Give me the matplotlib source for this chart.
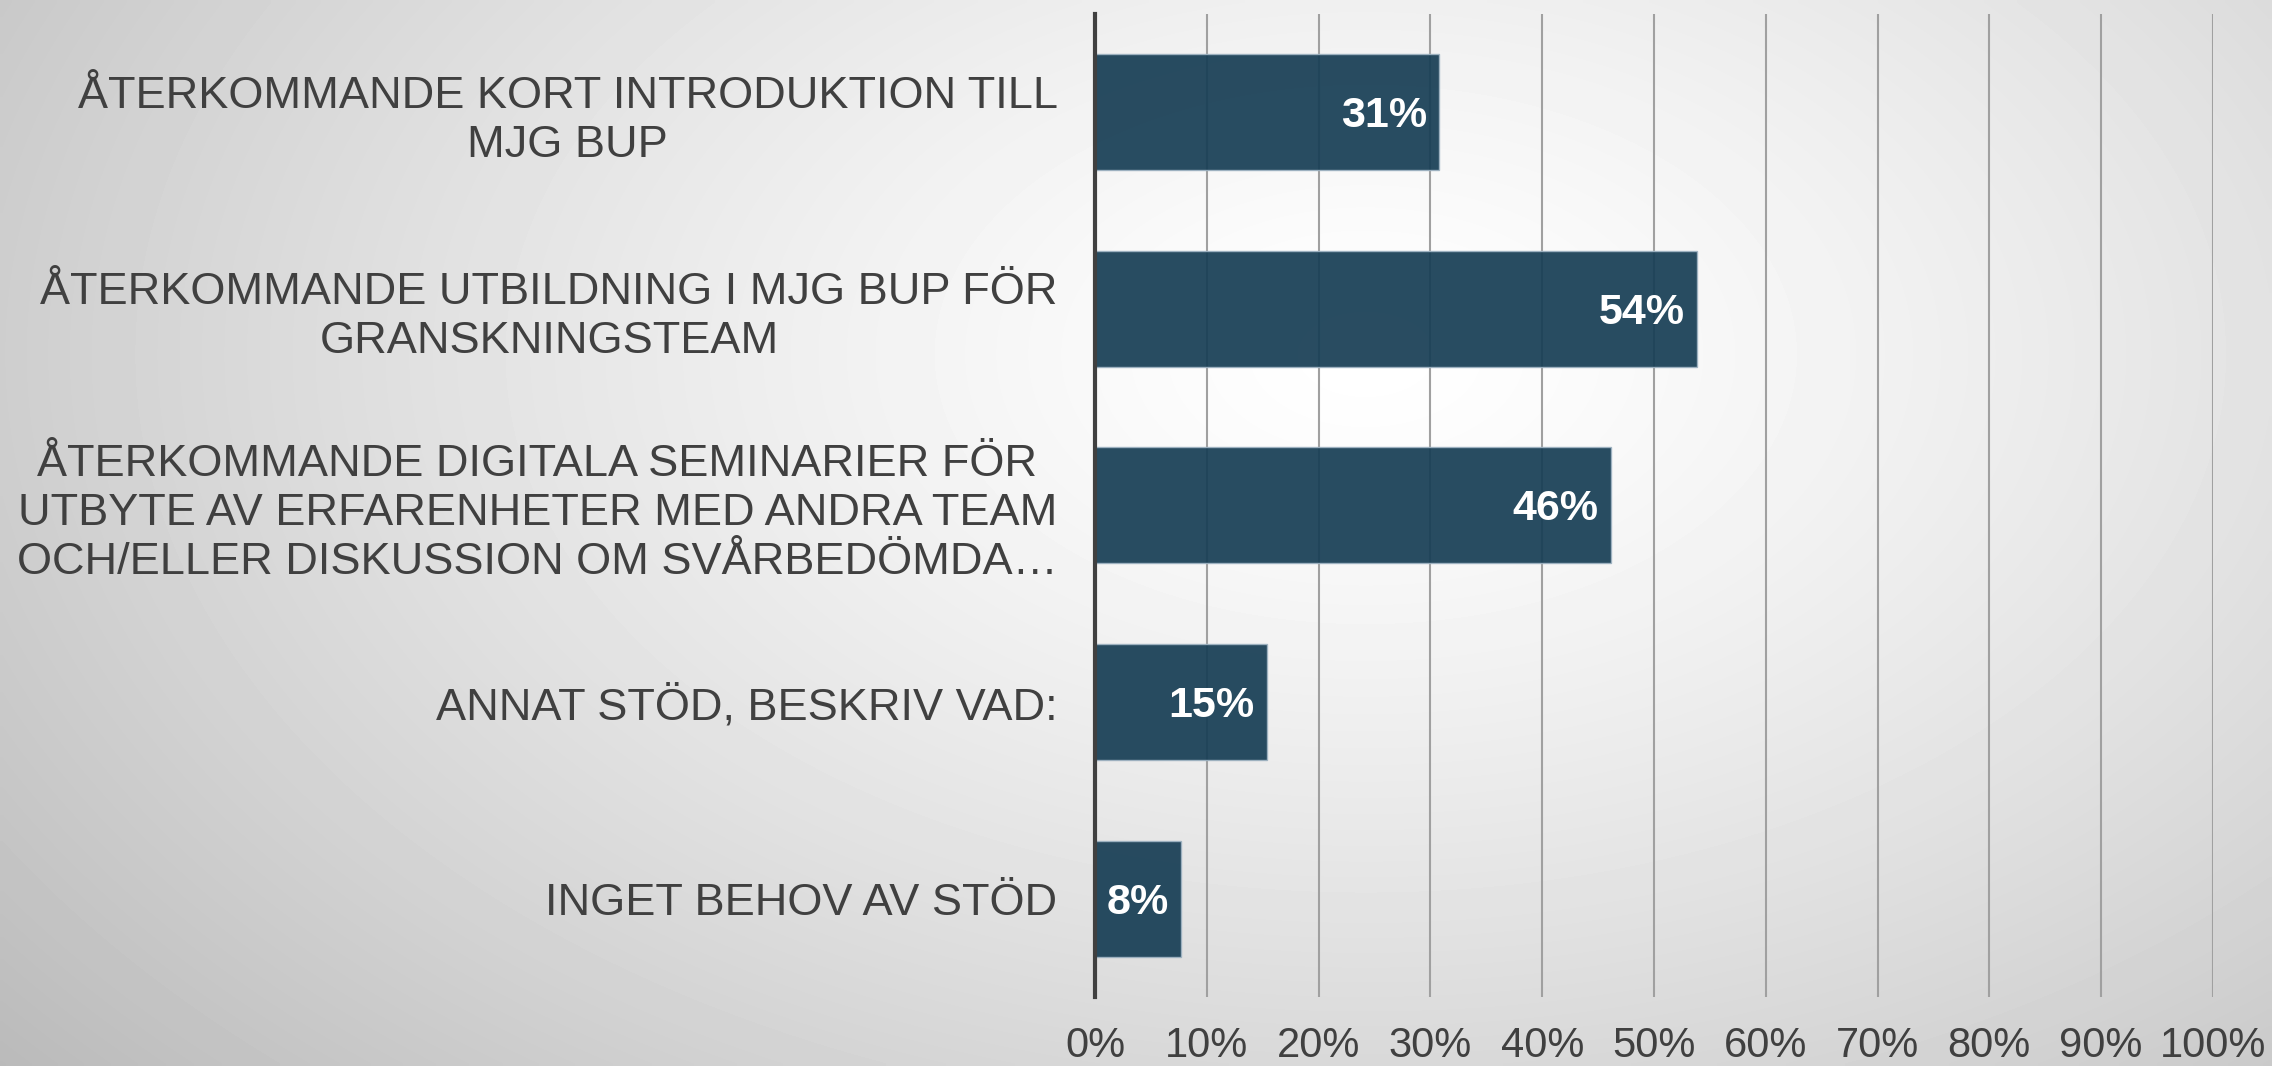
import numpy as np
import matplotlib
matplotlib.use('Agg')
import matplotlib.pyplot as plt
from matplotlib.ticker import PercentFormatter

# ------------------------------
# Data
# ------------------------------
categories = [
    'ÅTERKOMMANDE KORT INTRODUKTION TILL\nMJG BUP',
    'ÅTERKOMMANDE UTBILDNING I MJG BUP FÖR\nGRANSKNINGSTEAM',
    'ÅTERKOMMANDE DIGITALA SEMINARIER FÖR\nUTBYTE AV ERFARENHETER MED ANDRA TEAM\nOCH/ELLER DISKUSSION OM SVÅRBEDÖMDA…',
    'ANNAT STÖD, BESKRIV VAD:',
    'INGET BEHOV AV STÖD',
]
values = [30.77, 53.85, 46.15, 15.38, 7.69]
value_labels = ['31%', '54%', '46%', '15%', '8%']
x_ticks = [0, 10, 20, 30, 40, 50, 60, 70, 80, 90, 100]

text_color = '#404040'
bar_color = '#163d54'

plt.rcParams['font.family'] = ['Liberation Sans', 'DejaVu Sans']

fig = plt.figure(figsize=(22.72, 10.66), dpi=100)

# ------------------------------
# Radial gradient background
# ------------------------------
bg = fig.add_axes([0, 0, 1, 1], zorder=-10)
h, w = 200, 426
yy, xx = np.mgrid[0:h, 0:w]
cx, cy = 0.60 * w, 0.33 * h
d = np.sqrt(((xx - cx) / w) ** 2 + ((yy - cy) / h * 0.75) ** 2)
d = d / d.max()
shade = 1.0 - 0.27 * np.clip(d, 0, 1) ** 1.3
bg.imshow(shade, cmap='gray', vmin=0, vmax=1, aspect='auto',
          extent=[0, 1, 0, 1], interpolation='bilinear')
bg.axis('off')

# ------------------------------
# Bar chart
# ------------------------------
ax = fig.add_axes([0.482, 0.0647, 0.492, 0.9223])
ax.set_facecolor('none')

y = np.arange(len(categories))
bars = ax.barh(y, values, height=0.59, color=bar_color, alpha=0.92,
               edgecolor='#9fb3c2', linewidth=1.0, zorder=3)

for bar, lab in zip(bars, value_labels):
    ax.text(bar.get_width() - 1.1, bar.get_y() + bar.get_height() / 2 + 0.02, lab,
            ha='right', va='center', color='white', fontsize=31,
            fontweight='bold', zorder=5)

ax.set_xlim(0, 100)
ax.set_ylim(len(categories) - 0.5, -0.5)
ax.set_xticks(x_ticks)
ax.xaxis.set_major_formatter(PercentFormatter(decimals=0))
ax.set_yticks(y)
ax.set_yticklabels(categories, multialignment='center', linespacing=1.25)

ax.grid(axis='x', color='#a0a0a0', linewidth=1.5, zorder=0)
ax.set_axisbelow(True)

for side in ['top', 'right', 'bottom']:
    ax.spines[side].set_visible(False)
ax.spines['left'].set_color(text_color)
ax.spines['left'].set_linewidth(3)
ax.spines['left'].set_zorder(6)

ax.tick_params(axis='both', length=0, colors=text_color, labelsize=30)
ax.tick_params(axis='y', pad=27, labelsize=32.5)
ax.tick_params(axis='x', pad=21)

plt.savefig('out.png', dpi=100)
